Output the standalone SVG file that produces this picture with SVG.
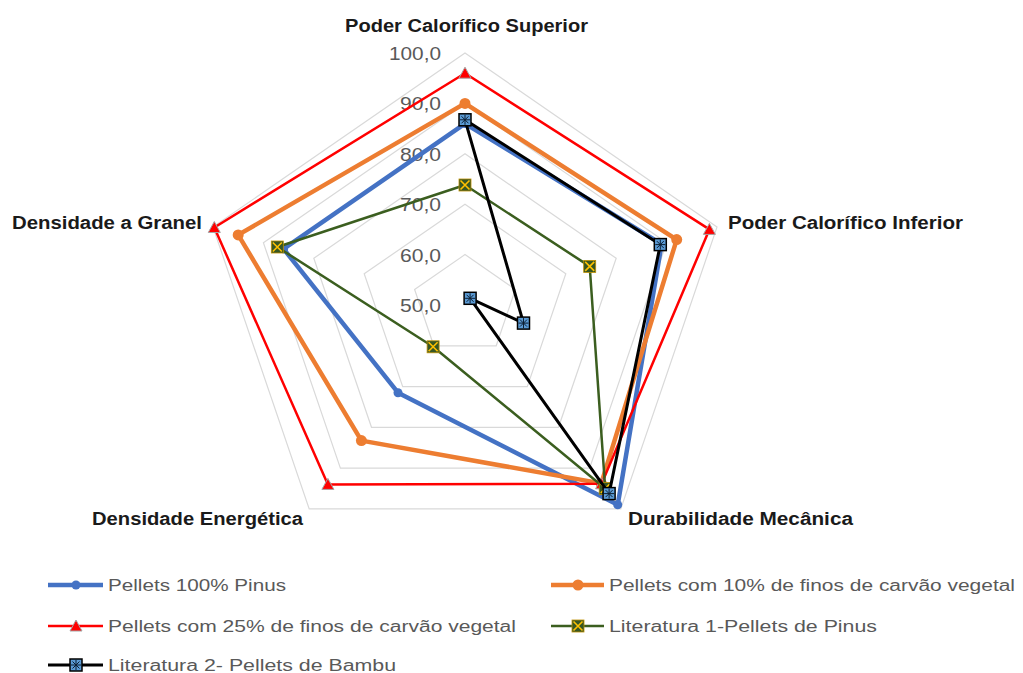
<svg xmlns="http://www.w3.org/2000/svg" width="1023" height="673" viewBox="0 0 1023 673">
<style>
.bg{fill:#ffffff}
.grid{fill:none;stroke:#d9d9d9;stroke-width:1.2}
.tick{font-family:"Liberation Sans",Arial,sans-serif;font-size:19px;fill:#595959;text-anchor:end}
.axl{font-family:"Liberation Sans",Arial,sans-serif;font-size:18px;font-weight:bold;fill:#1a1a1a}
.leg{font-family:"Liberation Sans",Arial,sans-serif;font-size:16px;fill:#595959}
.s{fill:none;stroke-linejoin:round}
.blue{stroke:#4472c4;stroke-width:4.5;marker-start:url(#mB);marker-mid:url(#mB)}
.orange{stroke:#ed7d31;stroke-width:4.5;marker-start:url(#mO);marker-mid:url(#mO)}
.red{stroke:#ff0000;stroke-width:2.5;marker-start:url(#mR);marker-mid:url(#mR)}
.green{stroke:#3b5e1f;stroke-width:2.5;marker-start:url(#mG);marker-mid:url(#mG)}
.black{stroke:#000000;stroke-width:3;marker-start:url(#mK);marker-mid:url(#mK)}
.s.lg{marker-start:none;marker-end:none}
</style>
<defs>
<marker id="mB" markerUnits="userSpaceOnUse" markerWidth="12" markerHeight="12" refX="6" refY="6" overflow="visible"><circle cx="6" cy="6" r="4.5" fill="#4472c4"/></marker>
<marker id="mO" markerUnits="userSpaceOnUse" markerWidth="14" markerHeight="14" refX="7" refY="7" overflow="visible"><circle cx="7" cy="7" r="5.5" fill="#ed7d31"/></marker>
<marker id="mR" markerUnits="userSpaceOnUse" markerWidth="14" markerHeight="14" refX="7" refY="7" overflow="visible"><polygon points="7,1 13,12 1,12" fill="#ff0000" stroke="#a5a5a5" stroke-width="1"/></marker>
<marker id="mG" markerUnits="userSpaceOnUse" markerWidth="14" markerHeight="14" refX="7" refY="7" overflow="visible"><rect x="1" y="1" width="12" height="12" fill="#375623" stroke="#bf9000" stroke-width="0.8"/><path d="M2.5,2.5 L11.5,11.5 M11.5,2.5 L2.5,11.5" stroke="#ffc000" stroke-width="1.6"/></marker>
<marker id="mK" markerUnits="userSpaceOnUse" markerWidth="14" markerHeight="14" refX="7" refY="7" overflow="visible"><rect x="1" y="1" width="12" height="12" fill="#5b9bd5" stroke="#000000" stroke-width="1.5"/><path d="M7,2 L7,12 M2,7 L12,7 M3.5,3.5 L10.5,10.5 M10.5,3.5 L3.5,10.5" stroke="#0d1f33" stroke-width="1"/></marker>
</defs>
<rect class="bg" x="0" y="0" width="1023" height="673"/>
<g id="grid">
<polygon class="grid" points="465,53 717,227.1 620.8,508.9 309.2,508.9 213,227.1"/>
<polygon class="grid" points="465,103.4 666.6,242.7 589.6,468.1 340.4,468.1 263.4,242.7"/>
<polygon class="grid" points="465,153.8 616.2,258.3 558.5,427.3 371.5,427.3 313.8,258.3"/>
<polygon class="grid" points="465,204.2 565.8,273.8 527.3,386.6 402.7,386.6 364.2,273.8"/>
<polygon class="grid" points="465,254.6 515.4,289.4 496.2,345.8 433.8,345.8 414.6,289.4"/>
</g>
<g id="ticks">
<text class="tick" x="441" y="60" textLength="52" lengthAdjust="spacingAndGlyphs">100,0</text>
<text class="tick" x="441" y="110.4" textLength="41" lengthAdjust="spacingAndGlyphs">90,0</text>
<text class="tick" x="441" y="160.8" textLength="41" lengthAdjust="spacingAndGlyphs">80,0</text>
<text class="tick" x="441" y="211.2" textLength="41" lengthAdjust="spacingAndGlyphs">70,0</text>
<text class="tick" x="441" y="261.6" textLength="41" lengthAdjust="spacingAndGlyphs">60,0</text>
<text class="tick" x="441" y="312" textLength="41" lengthAdjust="spacingAndGlyphs">50,0</text>
</g>
<g id="axis-labels">
<g id="label-pcs"><text class="axl" x="345" y="31.5" textLength="243" lengthAdjust="spacingAndGlyphs">Poder Calorífico Superior</text></g>
<g id="label-pci"><text class="axl" x="728" y="229" textLength="235" lengthAdjust="spacingAndGlyphs">Poder Calorífico Inferior</text></g>
<g id="label-dm"><text class="axl" x="628" y="524.5" textLength="225" lengthAdjust="spacingAndGlyphs">Durabilidade Mecânica</text></g>
<g id="label-de"><text class="axl" x="92" y="524.5" textLength="211" lengthAdjust="spacingAndGlyphs">Densidade Energética</text></g>
<g id="label-dg"><text class="axl" x="12" y="229" textLength="190" lengthAdjust="spacingAndGlyphs">Densidade a Granel</text></g>
</g>
<g id="series">
<g id="series-pinus"><polygon class="s blue" points="465,123.6 661.6,244.2 617.7,504.8 398,392.7 283.6,248.9"/></g>
<g id="series-10"><polygon class="s orange" points="465,103.4 676.7,239.6 601.3,483.4 361.4,440.6 238.2,234.9"/></g>
<g id="series-25"><polygon class="s red" points="465,73.2 709.4,229.4 601.6,483.8 327.9,484.4 214.3,227.5"/></g>
<g id="series-lit1"><polygon class="s green" points="465,185 589.7,266.4 605.2,488.5 433.1,346.8 277.3,247"/></g>
<g id="series-lit2"><polygon class="s black" points="465,119.8 660.3,244.6 609.1,493.6 470.1,298.3 523.5,323.1"/></g>
</g>
<g id="legend">
<g id="leg-pinus"><polyline class="s blue lg" points="48,585 76,585 103,585"/><text class="leg" x="108" y="590.5" textLength="178" lengthAdjust="spacingAndGlyphs">Pellets 100% Pinus</text></g>
<g id="leg-10"><polyline class="s orange lg" points="551,585 578,585 604,585"/><text class="leg" x="609" y="590.5" textLength="406" lengthAdjust="spacingAndGlyphs">Pellets com 10% de finos de carvão vegetal</text></g>
<g id="leg-25"><polyline class="s red lg" points="48,626 76,626 103,626"/><text class="leg" x="108" y="631.5" textLength="408" lengthAdjust="spacingAndGlyphs">Pellets com 25% de finos de carvão vegetal</text></g>
<g id="leg-lit1"><polyline class="s green lg" points="551,626 578,626 604,626"/><text class="leg" x="609" y="631.5" textLength="268" lengthAdjust="spacingAndGlyphs">Literatura 1-Pellets de Pinus</text></g>
<g id="leg-lit2"><polyline class="s black lg" points="48,665 76,665 103,665"/><text class="leg" x="108" y="670.5" textLength="288" lengthAdjust="spacingAndGlyphs">Literatura 2- Pellets de Bambu</text></g>
</g>
</svg>
